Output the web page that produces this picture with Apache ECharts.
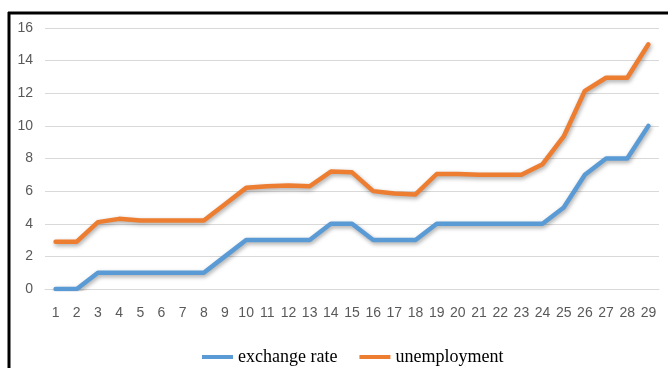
<!DOCTYPE html>
<html>
<head>
<meta charset="utf-8">
<script src="https://cdn.jsdelivr.net/npm/echarts@6/dist/echarts.min.js"></script>
<style>
  html, body { margin: 0; padding: 0; background: #fff; }
  #chart { width: 668px; height: 368px; }
</style>
</head>
<body>
<div id="chart"></div>
<script>
// Period index 1..29
const periods = ['1','2','3','4','5','6','7','8','9','10','11','12','13','14','15',
  '16','17','18','19','20','21','22','23','24','25','26','27','28','29'];

const exchangeRate = [0, 0, 1, 1, 1, 1, 1, 1, 2, 3, 3, 3, 3, 4, 4,
  3, 3, 3, 4, 4, 4, 4, 4, 4, 5, 7, 8, 8, 10];

const unemployment = [2.9, 2.9, 4.1, 4.3, 4.2, 4.2, 4.2, 4.2, 5.2, 6.2, 6.3, 6.35, 6.3, 7.2, 7.15,
  6.0, 5.85, 5.8, 7.05, 7.05, 7.0, 7.0, 7.0, 7.65, 9.35, 12.15, 12.95, 12.95, 15.0];

const yTicks = { min: 0, max: 16, step: 2 };

const axisFont = '"Liberation Sans Narrow", "Liberation Sans", sans-serif';
const legendFont = '"Liberation Serif", "DejaVu Serif", serif';

const chart = echarts.init(document.getElementById('chart'), null, { renderer: 'canvas' });

function lineSeries(name, data, color) {
  return {
    name: name,
    type: 'line',
    data: data,
    symbol: 'none',
    smooth: false,
    lineStyle: {
      color: color,
      width: 4.5,
      cap: 'round',
      join: 'round',
      shadowColor: 'rgba(0,0,0,0.35)',
      shadowBlur: 4,
      shadowOffsetY: 2,
      shadowOffsetX: 1
    },
    itemStyle: { color: color },
    emphasis: { disabled: true }
  };
}

chart.setOption({
  animation: false,
  backgroundColor: '#ffffff',
  grid: { left: 45, right: 9, top: 28, bottom: 79, containLabel: false },
  legend: {
    left: 197,
    top: 343,
    itemWidth: 31,
    itemHeight: 4,
    itemGap: 22,
    icon: 'rect',
    textStyle: { fontFamily: legendFont, fontSize: 18, color: '#000' },
    data: ['exchange rate', 'unemployment']
  },
  xAxis: {
    type: 'category',
    data: periods,
    boundaryGap: true,
    axisLine: { show: true, lineStyle: { color: '#d9d9d9', width: 1 } },
    axisTick: { show: false },
    axisLabel: { fontFamily: axisFont, fontSize: 14, color: '#595959', margin: 17, interval: 0 }
  },
  yAxis: {
    type: 'value',
    min: yTicks.min,
    max: yTicks.max,
    interval: yTicks.step,
    axisLine: { show: false },
    axisTick: { show: false },
    axisLabel: { fontFamily: axisFont, fontSize: 14, color: '#595959', margin: 12 },
    splitLine: { lineStyle: { color: '#d9d9d9', width: 1 } }
  },
  graphic: [
    { type: 'line', shape: { x1: 8, y1: 13, x2: 668, y2: 13 }, style: { stroke: '#000', lineWidth: 3 }, silent: true },
    { type: 'line', shape: { x1: 9, y1: 12, x2: 9, y2: 368 }, style: { stroke: '#000', lineWidth: 3 }, silent: true }
  ],
  series: [
    lineSeries('exchange rate', exchangeRate, '#5b9bd5'),
    lineSeries('unemployment', unemployment, '#ed7d31')
  ]
});
</script>
</body>
</html>
